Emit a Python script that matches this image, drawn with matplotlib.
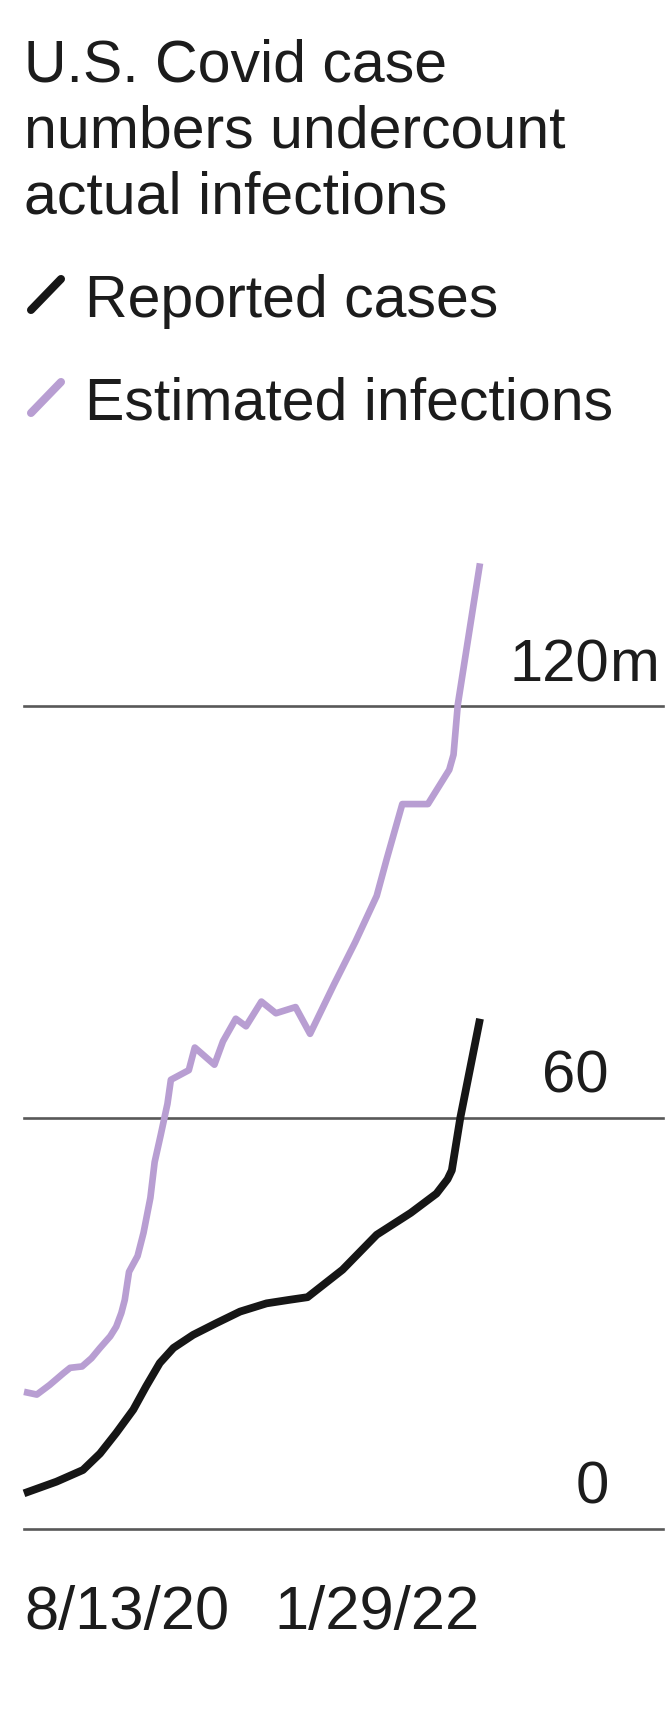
import matplotlib
matplotlib.use("Agg")
import matplotlib.pyplot as plt
import matplotlib.dates as mdates
import pandas as pd
from matplotlib.lines import Line2D

# --- data (millions of people, cumulative) ---
est_dates = [
    "2020-08-13", "2020-08-28", "2020-09-12", "2020-09-28", "2020-10-06",
    "2020-10-20", "2020-10-31", "2020-11-10", "2020-11-22", "2020-11-29",
    "2020-12-05", "2020-12-09", "2020-12-14", "2020-12-24", "2020-12-31",
    "2021-01-08", "2021-01-13", "2021-01-20", "2021-01-28", "2021-02-01",
    "2021-02-22", "2021-03-01", "2021-03-24", "2021-04-03", "2021-04-18",
    "2021-04-30", "2021-05-18", "2021-06-04", "2021-06-27", "2021-07-14",
    "2021-08-11", "2021-09-05", "2021-09-30", "2021-10-12", "2021-10-30",
    "2021-11-29", "2021-12-24", "2021-12-29", "2022-01-03", "2022-01-29",
]
est_values = [
    20.0, 19.6, 21.0, 22.7, 23.5,
    23.7, 24.9, 26.4, 28.1, 29.5,
    31.5, 33.4, 37.5, 39.8, 43.2,
    48.3, 53.5, 57.4, 62.0, 65.5,
    66.9, 70.2, 67.7, 71.1, 74.4,
    73.3, 76.9, 75.2, 76.1, 72.2,
    79.4, 85.6, 92.3, 97.8, 105.7,
    105.7, 110.7, 112.9, 120.2, 140.8,
]

rep_dates = [
    "2020-08-13", "2020-09-20", "2020-10-21", "2020-11-10", "2020-11-29",
    "2020-12-19", "2021-01-03", "2021-01-19", "2021-02-04", "2021-02-27",
    "2021-03-26", "2021-04-23", "2021-05-24", "2021-06-19", "2021-07-11",
    "2021-08-21", "2021-09-30", "2021-11-09", "2021-12-09", "2021-12-22",
    "2021-12-27", "2022-01-06", "2022-01-29",
]
rep_values = [
    5.2, 6.9, 8.6, 11.0, 14.0,
    17.4, 20.8, 24.2, 26.4, 28.3,
    30.0, 31.7, 32.9, 33.4, 33.8,
    37.8, 42.9, 46.1, 48.9, 51.0,
    52.3, 60.0, 74.4,
]

y_ticks = [0, 60, 120]
y_tick_labels = ["0", "60", "120"]
x_tick_dates = ["2020-08-13", "2022-01-29"]
x_tick_labels = ["8/13/20", "1/29/22"]

title_lines = ["U.S. Covid case", "numbers undercount", "actual infections"]
series_names = ["Reported cases", "Estimated infections"]

# --- styling ---
W, H, DPI = 666, 1711, 100
FONT = ["Liberation Sans", "DejaVu Sans"]
TEXT = "#1c1c1c"
PURPLE = "#b89ed2"
BLACK = "#161616"
GRID = "#585858"

plt.rcParams["font.family"] = FONT

fig = plt.figure(figsize=(W / DPI, H / DPI), dpi=DPI)
fig.patch.set_facecolor("white")


def fx(px):
    return px / W


def fy(py):
    return 1 - py / H


# plot area: left edge at 24px, right edge at 663px, zero line at 1529px
ax_left, ax_right, ax_bottom, ax_top = 24, 663, 1529, 540
ax = fig.add_axes([fx(ax_left), fy(ax_bottom),
                   (ax_right - ax_left) / W, (ax_bottom - ax_top) / H])
ax.set_facecolor("none")

est_x = pd.to_datetime(est_dates)
rep_x = pd.to_datetime(rep_dates)
start = mdates.date2num(pd.Timestamp(x_tick_dates[0]))
end = mdates.date2num(pd.Timestamp(x_tick_dates[1]))
data_right_px = 480
span = (end - start) * (ax_right - ax_left) / (data_right_px - ax_left)
ax.set_xlim(start, start + span)
ax.set_ylim(0, 60 * (ax_bottom - ax_top) / 411.5)

for v in y_ticks:
    ax.axhline(v, color=GRID, lw=1.9, zorder=1, clip_on=False)

ax.plot(est_x, est_values, color=PURPLE, lw=4.8, solid_joinstyle="round",
        solid_capstyle="butt", zorder=3, clip_on=False)
ax.plot(rep_x, rep_values, color=BLACK, lw=5.6, solid_joinstyle="round",
        solid_capstyle="butt", zorder=4, clip_on=False)

for s in ax.spines.values():
    s.set_visible(False)
ax.set_xticks([])
ax.set_yticks([])

# y labels sit above their gridlines, numbers right-aligned, unit hanging
num_right = (609 - ax_left) / (ax_right - ax_left)
for v, lab in zip(y_ticks, y_tick_labels):
    ax.annotate(lab, xy=(num_right, v), xycoords=("axes fraction", "data"),
                xytext=(0, 18), textcoords="offset points",
                ha="right", va="baseline", fontsize=43, color=TEXT)
    if v == max(y_ticks):
        ax.annotate("m", xy=(num_right, v), xycoords=("axes fraction", "data"),
                    xytext=(0, 18), textcoords="offset points",
                    ha="left", va="baseline", fontsize=43, color=TEXT)

# x labels: first left-aligned, last right-aligned
for d, lab, ha in zip(x_tick_dates, x_tick_labels, ["left", "right"]):
    ax.annotate(lab, xy=(mdates.date2num(pd.Timestamp(d)), 0),
                xycoords=("data", "axes fraction"),
                xytext=(0, -72), textcoords="offset points",
                ha=ha, va="baseline", fontsize=44.3, color=TEXT)

# title
for i, line in enumerate(title_lines):
    fig.text(fx(24), fy(82 + 66 * i), line, fontsize=42.5, color=TEXT,
             ha="left", va="baseline")

# legend: short diagonal strokes followed by the series names
legend_rows = [(series_names[0], BLACK, 317), (series_names[1], PURPLE, 420)]
for name, col, base in legend_rows:
    fig.add_artist(Line2D([fx(31), fx(61)], [fy(base - 7), fy(base - 38)],
                          color=col, lw=5.8, solid_capstyle="round",
                          transform=fig.transFigure))
    fig.text(fx(85), fy(base), name, fontsize=42.5, color=TEXT,
             ha="left", va="baseline")

fig.savefig("out.png", dpi=DPI, facecolor="white")
